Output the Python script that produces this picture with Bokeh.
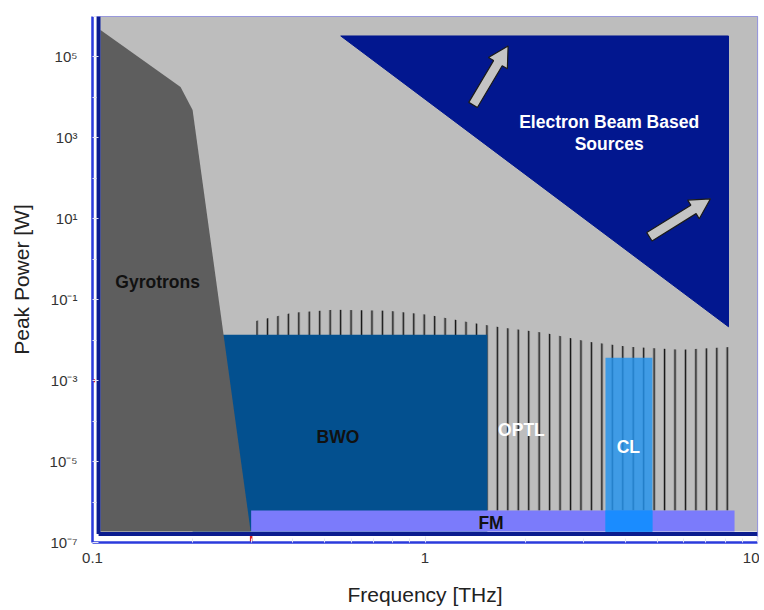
import numpy as np
from bokeh.plotting import figure
from bokeh.models import FixedTicker, CustomJSTickFormatter, Range1d
from bokeh.core.properties import value
from bokeh.embed import file_html
from bokeh.resources import INLINE

# ---------------- axis ticks ----------------
x_ticks = [0.1, 1, 10]
x_minor = [0.2, 0.3, 0.4, 0.5, 0.6, 0.7, 0.8, 0.9, 2, 3, 4, 5, 6, 7, 8, 9]
y_ticks = [1e-7, 1e-5, 1e-3, 1e-1, 1e1, 1e3, 1e5]
y_minor = [1e-6, 1e-4, 1e-2, 1e0, 1e2, 1e4, 1e6]

# ---------------- regions (frequency THz, peak power W) ----------------
bg_f = [0.1057, 10.0]
bg_p = [1.87e-7, 1e6]

gyro_f = [0.1057, 0.184, 0.200, 0.299, 0.1057]
gyro_p = [4.64e5, 1.82e4, 4.9e3, 1.87e-7, 1.87e-7]

ebeam_f = [0.558, 8.18, 8.18]
ebeam_p = [3.3e5, 3.3e5, 0.0215]

optl_top_f = [0.310, 0.321, 0.400, 0.532, 0.775, 1.02, 1.38, 1.72, 2.28, 3.10, 4.09, 5.90, 8.53]
optl_top_p = [0.030, 0.0321, 0.0478, 0.0566, 0.0534, 0.0427, 0.0270, 0.0204, 0.0153,
              0.00918, 0.00692, 0.00582, 0.00692]
optl_bottom_p = 6.17e-7

bwo_f = [0.20, 1.54]
bwo_p = [1.87e-7, 0.01368]

fm_f = [0.30, 8.53]
fm_p = [1.87e-7, 6.17e-7]

cl_f = [3.49, 4.83]
cl_p = [1.67e-7, 3.70e-3]

# arrows (tail, tip)
arrow1 = [(1.395, 6.53e3), (1.778, 1.87e5)]
arrow2 = [(4.73, 3.59), (7.22, 31.2)]

# labels
lab_text = ["Gyrotrons", "BWO", "FM"]
lab_f = [0.157, 0.547, 1.58]
lab_p = [0.278, 4.14e-5, 3.12e-7]
wlab_text = ["Electron Beam Based", "Sources", "OPTL", "CL"]
wlab_f = [3.58, 3.58, 1.95, 4.09]
wlab_p = [2.48e3, 7.11e2, 6.17e-5, 2.34e-5]

FONT = "Liberation Sans"

p = figure(x_axis_type="log", y_axis_type="log",
           x_range=Range1d(0.1, 10), y_range=Range1d(1e-7, 1e6),
           frame_width=665, frame_height=526,
           min_border_left=92, min_border_right=2, min_border_top=16, min_border_bottom=62,
           output_backend="svg", toolbar_location=None)
p.grid.visible = False
p.background_fill_color = "white"
p.border_fill_color = "white"
p.outline_line_color = "#8c8ce6"
p.outline_line_width = 1.2

# background
p.quad(left=[bg_f[0]], right=[bg_f[1]], bottom=[bg_p[0]], top=[bg_p[1]],
       fill_color="#bdbdbd", line_color=None)

# OPTL hatch
hx = [optl_top_f[0]] + optl_top_f + [optl_top_f[-1]]
hy = [optl_bottom_p] + optl_top_p + [optl_bottom_p]
p.patch(hx, hy, fill_color=None, line_color=None,
        hatch_pattern="vertical_line", hatch_color="#151515",
        hatch_scale=10.45, hatch_weight=1.5)

# BWO
p.quad(left=[bwo_f[0]], right=[bwo_f[1]], bottom=[bwo_p[0]], top=[bwo_p[1]],
       fill_color="#03508f", line_color=None)

# Gyrotrons
p.patch(gyro_f, gyro_p, fill_color="#5e5e5e", line_color=None)

# FM
p.quad(left=[fm_f[0]], right=[fm_f[1]], bottom=[fm_p[0]], top=[fm_p[1]],
       fill_color="#7b7bfb", line_color=None)

# CL
p.quad(left=[cl_f[0]], right=[cl_f[1]], bottom=[cl_p[0]], top=[cl_p[1]],
       fill_color="#2394ee", fill_alpha=0.82, line_color=None)
p.quad(left=[cl_f[0]], right=[cl_f[1]], bottom=[max(cl_p[0], fm_p[0])], top=[fm_p[1]],
       fill_color="#1a8cff", line_color=None)

# navy frame lines
p.line([0.1043, 0.1043], [1.62e-7, 1e6], line_color="#0b1c8e", line_width=4)
p.line([0.1043, 10], [1.62e-7, 1.62e-7], line_color="#0b1c8e", line_width=4)

# red marks
p.line([0.3, 0.3], [1e-7, 1.45e-7], line_color="#e02020", line_width=2.5)
p.line([0.1, 0.1018], [1e-3, 1e-3], line_color="#e02020", line_width=3)

# electron beam triangle
p.patch(ebeam_f, ebeam_p, fill_color="#02178f", line_color="#02178f", line_width=1)

# arrows
SX, SY = 332.0, 40.5


def block_arrow(tail, tip, shaft=5.0, head=11.0, head_len=20.0):
    x0, y0 = np.log10(tail[0]) * SX, np.log10(tail[1]) * SY
    x1, y1 = np.log10(tip[0]) * SX, np.log10(tip[1]) * SY
    dx, dy = x1 - x0, y1 - y0
    L = np.hypot(dx, dy)
    ux, uy = dx / L, dy / L
    nx, ny = -uy, ux
    bx, by = x1 - ux * head_len, y1 - uy * head_len
    pts = [(x0 + nx * shaft, y0 + ny * shaft), (bx + nx * shaft, by + ny * shaft),
           (bx + nx * head, by + ny * head), (x1, y1),
           (bx - nx * head, by - ny * head), (bx - nx * shaft, by - ny * shaft),
           (x0 - nx * shaft, y0 - ny * shaft)]
    return [10 ** (q[0] / SX) for q in pts], [10 ** (q[1] / SY) for q in pts]


for a in (arrow1, arrow2):
    ax, ay = block_arrow(*a)
    p.patch(ax, ay, fill_color="#c4c4c4", line_color="#1a1a1a", line_width=1.2)

# labels
p.text(x=lab_f, y=lab_p, text=lab_text, text_font=value(FONT), text_font_style="bold",
       text_font_size="17.5px", text_align="center", text_baseline="middle", text_color="#111111")
p.text(x=wlab_f, y=wlab_p, text=wlab_text, text_font=value(FONT), text_font_style="bold",
       text_font_size="17.5px", text_align="center", text_baseline="middle", text_color="white")

# axes
p.xaxis.ticker = FixedTicker(ticks=x_ticks, minor_ticks=x_minor)
p.yaxis.ticker = FixedTicker(ticks=y_ticks, minor_ticks=y_minor)
p.xaxis.formatter = CustomJSTickFormatter(code="return tick >= 1 ? tick.toFixed(0) : tick.toString();")
p.yaxis.formatter = CustomJSTickFormatter(code="""
const e = Math.round(Math.log10(tick));
const m = {'-':'\u207b','0':'\u2070','1':'\u00b9','2':'\u00b2','3':'\u00b3','4':'\u2074',
           '5':'\u2075','6':'\u2076','7':'\u2077','8':'\u2078','9':'\u2079'};
return '10' + String(e).split('').map(c => m[c]).join('');
""")
for ax in (p.xaxis, p.yaxis):
    ax.axis_line_color = "#2b3bdc"
    ax.axis_line_width = 2.5
    ax.major_tick_in = 6
    ax.major_tick_out = 0
    ax.minor_tick_in = 4
    ax.minor_tick_out = 0
    ax.major_tick_line_color = "#e4e4f4"
    ax.minor_tick_line_color = "#e4e4f4"
    ax.major_label_text_font = FONT
    ax.major_label_text_font_size = "15px"
    ax.major_label_text_color = "#333333"
    ax.axis_label_text_font = FONT
    ax.axis_label_text_font_size = "21px"
    ax.axis_label_text_font_style = "normal"
    ax.axis_label_text_color = "#222222"
p.xaxis.axis_label = "Frequency [THz]"
p.yaxis.axis_label = "Peak Power [W]"
p.xaxis.major_label_standoff = 10
p.xaxis.axis_label_standoff = 17
p.yaxis.major_label_standoff = 15
p.yaxis.axis_label_standoff = 14

open("out.html", "w").write(file_html(p, INLINE))
